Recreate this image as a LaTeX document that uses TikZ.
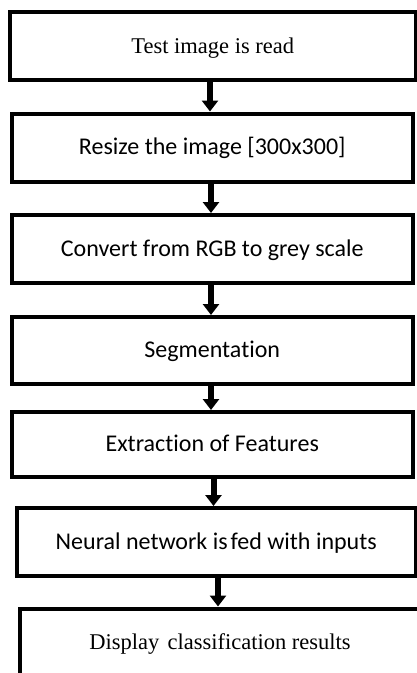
\documentclass[tikz,border=0pt]{standalone}
\usepackage{fontspec}
\setmainfont{Liberation Serif}
\newfontfamily\bodyfont[Ligatures=NoCommon]{Carlito}
\usetikzlibrary{arrows.meta}

\tikzset{
  stepbox/.style={draw=black, line width=4pt, fill=white, rectangle,
    inner sep=0pt, outer sep=2pt, align=center,
    text height=17pt, text depth=3pt},
  serifbox/.style={stepbox, font=\fontsize{22.5}{26}\selectfont},
  sansbox/.style={stepbox, font=\bodyfont\fontsize{24}{28}\selectfont},
  flow/.style={draw=black, line width=6pt,
    -{Triangle[width=16pt,length=11pt]}}
}

\begin{document}
\begin{tikzpicture}[x=1pt, y=-1pt]
  \useasboundingbox (0,0) rectangle (417,673);

  % process steps, top to bottom
  \node[serifbox, minimum width=405.5pt, minimum height=68pt]
    (read) at (212.75,46) {Test image is read};
  \node[sansbox, minimum width=401.5pt, minimum height=68.5pt]
    (resize) at (212.25,147.75) {Resize the image [300x300]};
  \node[sansbox, minimum width=401.5pt, minimum height=68pt]
    (grey) at (212.25,249) {Convert from RGB to grey scale};
  \node[sansbox, minimum width=401.5pt, minimum height=67pt]
    (seg) at (212.25,350.5) {Segmentation};
  \node[sansbox, minimum width=401.5pt, minimum height=65pt]
    (feat) at (212.25,444.5) {Extraction of Features};
  \node[sansbox, minimum width=399.5pt, minimum height=68pt]
    (nn) at (216.25,542) {Neural network is\hspace{0.12em}fed with inputs};
  \node[serifbox, minimum width=400pt, minimum height=68pt]
    (show) at (220,642.5) {Display\hspace{0.12em} classification results};

  % x positions of the connecting arrows
  \coordinate (a1) at (210,0);
  \coordinate (a2) at (211,0);
  \coordinate (a3) at (211,0);
  \coordinate (a4) at (211,0);
  \coordinate (a5) at (213.5,0);
  \coordinate (a6) at (218,0);

  \draw[flow] (read.south -| a1) -- (resize.north -| a1);
  \draw[flow] (resize.south -| a2) -- (grey.north -| a2);
  \draw[flow] (grey.south -| a3) -- (seg.north -| a3);
  \draw[flow] (seg.south -| a4) -- (feat.north -| a4);
  \draw[flow] (feat.south -| a5) -- (nn.north -| a5);
  \draw[flow] (nn.south -| a6) -- (show.north -| a6);
\end{tikzpicture}
\end{document}
